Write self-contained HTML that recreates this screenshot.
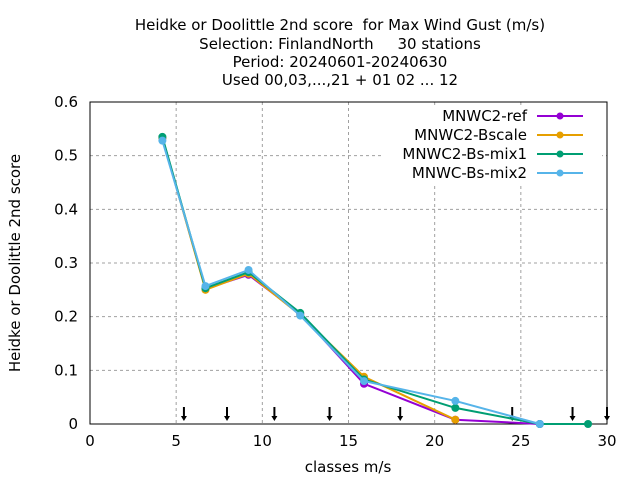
<!DOCTYPE html>
<html><head><meta charset="utf-8"><style>
body{margin:0;background:#fff}
svg{display:block;font-family:"DejaVu Sans",sans-serif}
text{white-space:pre}
</style></head><body>
<svg id="c" width="640" height="480">
<g font-size="15" text-anchor="middle" fill="#000">
<text x="340" y="30" xml:space="preserve">Heidke or Doolittle 2nd score  for Max Wind Gust (m/s)</text>
<text x="340" y="49" xml:space="preserve">Selection: FinlandNorth     30 stations</text>
<text x="340" y="67">Period: 20240601-20240630</text>
<text x="340" y="85">Used 00,03,...,21 + 01 02 ... 12</text>
</g>
<text x="348" y="472" font-size="15" text-anchor="middle">classes m/s</text>
<text transform="translate(20,263) rotate(-90)" font-size="15" text-anchor="middle">Heidke or Doolittle 2nd score</text>
<g id="grid"></g>
<g id="axes"></g>
<g id="arrows"></g>
<g id="series"></g>
<g id="legend"></g>
</svg>
<script>
const xs=[4.2,6.7,9.2,12.2,15.9,21.2,26.1,28.9];
const names=["MNWC2-ref","MNWC2-Bscale","MNWC2-Bs-mix1","MNWC-Bs-mix2"];
const colors=["#9400d3","#e69f00","#009e73","#56b4e9"];
const sRef=[0.533,0.252,0.278,0.205,0.075,0.008,0.0,null];
const sBscale=[0.533,0.250,0.280,0.203,0.088,0.008,null,null];
const sMix1=[0.535,0.253,0.283,0.207,0.083,0.030,0.0,0.0];
const sMix2=[0.528,0.257,0.287,0.202,0.080,0.043,0.0,null];
const xTicks=[0,5,10,15,20,25,30];
const yTicks=[0,0.1,0.2,0.3,0.4,0.5,0.6];
const arrowX=[5.45,7.95,10.7,13.9,18.0,24.5,28.0,30.0];
const L=90,R=607,T=102,B=424;
const X=v=>L+(v-0)/30*(R-L), Y=v=>B-v/0.6*(B-T);
const NS="http://www.w3.org/2000/svg";
function mk(t,a,p){const e=document.createElementNS(NS,t);for(const k in a)e.setAttribute(k,a[k]);p.appendChild(e);return e;}
const grid=document.getElementById('grid'),axes=document.getElementById('axes');
xTicks.forEach(t=>{
 if(t>0&&t<30){const g=mk('line',{x1:X(t),x2:X(t),y1:T,y2:B,stroke:'#a0a0a0','stroke-dasharray':'3,3'},grid);}
 const tx=mk('text',{x:X(t),y:B+22,'font-size':15,'text-anchor':'middle'},axes);tx.textContent=t;
 
});
yTicks.forEach(t=>{
 if(t>0&&t<0.6){const g=mk('line',{x1:L,x2:R,y1:Y(t),y2:Y(t),stroke:'#a0a0a0','stroke-dasharray':'3,3'},grid);}
 const tx=mk('text',{x:L-12,y:Y(t)+5,'font-size':15,'text-anchor':'end'},axes);tx.textContent=t===0?'0':t.toFixed(1);
 
});
const fr=mk('rect',{x:L,y:T,width:R-L,height:B-T,fill:'none',stroke:'#000'},axes);

const ar=document.getElementById('arrows');
arrowX.forEach(a=>{
 const g=mk('g',{},ar);
 mk('line',{x1:X(a),x2:X(a),y1:B-17,y2:B-6,stroke:'#000','stroke-width':2},g);
 mk('path',{d:`M${X(a)-3},${B-8}L${X(a)+3},${B-8}L${X(a)},${B-3}Z`,fill:'#000'},g);
});
const ser=document.getElementById('series');
[sRef,sBscale,sMix1,sMix2].forEach((s,i)=>{
 const g=mk('g',{},ser);
 let d='';s.forEach((v,j)=>{if(v!==null)d+=(d?'L':'M')+X(xs[j])+','+Y(v);});
 mk('path',{d,fill:'none',stroke:colors[i],'stroke-width':2},g);
 s.forEach((v,j)=>{if(v!==null){const c=mk('circle',{cx:X(xs[j]),cy:Y(v),r:4,fill:colors[i]},g);}});
});
const lg=document.getElementById('legend');
mk('rect',{x:382,y:105,width:220,height:78,fill:'#fff'},lg);
names.forEach((n,i)=>{
 const y=116+i*19;
 const g=mk('g',{},lg);
 const t=mk('text',{x:527,y:y+5,'font-size':15,'text-anchor':'end'},g);t.textContent=n;
 mk('line',{x1:537,x2:583,y1:y,y2:y,stroke:colors[i],'stroke-width':2},g);
 mk('circle',{cx:560,cy:y,r:3.5,fill:colors[i]},g);
});
</script>
</body></html>
